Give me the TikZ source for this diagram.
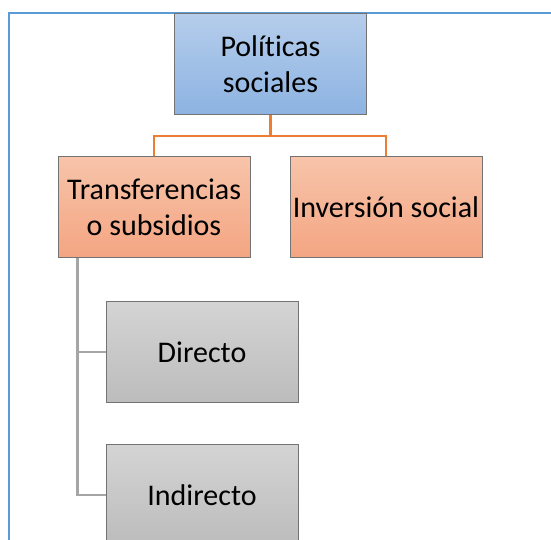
\documentclass[tikz,border=0pt]{standalone}
\usepackage{fontspec}
\setmainfont{Carlito}[Ligatures=NoCommon]
\usetikzlibrary{positioning}
\definecolor{frameblue}{HTML}{5B9BD5}
\definecolor{linkorange}{HTML}{ED7D31}
\definecolor{linkgray}{HTML}{A5A5A5}
\definecolor{bluetop}{HTML}{B5CDEB}
\definecolor{bluebot}{HTML}{8DB3E2}
\definecolor{orangetop}{HTML}{F7C4AA}
\definecolor{orangebot}{HTML}{F4A582}
\definecolor{graytop}{HTML}{D4D4D4}
\definecolor{graybot}{HTML}{BCBCBC}
\begin{document}
\begin{tikzpicture}[node distance=143pt, x=1pt, y=1pt]
  % Define styles
  \tikzstyle{box} = [rectangle, minimum width=192pt, minimum height=101pt, inner sep=0pt,
                     text centered, align=center, draw=black!55, line width=0.9pt,
                     font=\fontsize{30}{36}\selectfont]
  \tikzstyle{main} = [box, top color=bluetop, bottom color=bluebot]
  \tikzstyle{branch} = [box, top color=orangetop, bottom color=orangebot]
  \tikzstyle{leaf} = [box, top color=graytop, bottom color=graybot]
  \tikzstyle{orangelink} = [linkorange, line width=2.6pt]
  \tikzstyle{graylink} = [linkgray, line width=2.6pt]

  \useasboundingbox (0,0) rectangle (551,539);

  % Frame
  \draw [frameblue, line width=1.6pt] (9,-2) -- (9,526) -- (553,526);

  % Nodes
  \node (pol) [main] at (270.5,475) {Políticas\\sociales};
  \node (trans) [branch, below of=pol, xshift=-116.5pt] {Transferencias\\o subsidios};
  \node (inv) [branch, below of=pol, xshift=115.5pt] {Inversión social};
  \node (dir) [leaf, below of=trans, xshift=48pt, yshift=-2pt] {Directo};
  \node (ind) [leaf, below of=dir] {Indirecto};

  % Links
  \draw [orangelink] (pol.south) -- ++(0,-21) -| (trans.north);
  \draw [orangelink] (pol.south) -- ++(0,-21) -| (inv.north);
  \draw [graylink] ([xshift=20pt]trans.south west) |- (dir.west);
  \draw [graylink] ([xshift=20pt]trans.south west) |- (ind.west);
\end{tikzpicture}
\end{document}
